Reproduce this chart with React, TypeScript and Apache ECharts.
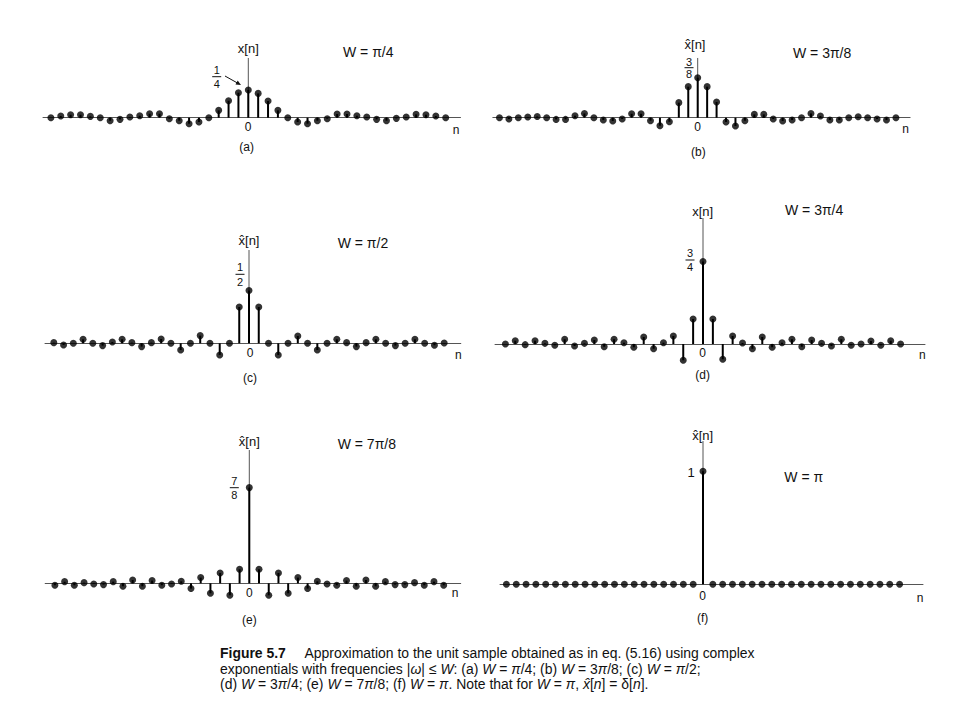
import React, { useEffect, useRef } from "react";
import * as echarts from "echarts";

// sample indices
const N41 = [-20, -19, -18, -17, -16, -15, -14, -13, -12, -11, -10, -9, -8, -7, -6, -5, -4, -3, -2, -1, 0, 1, 2, 3, 4, 5, 6, 7, 8, 9, 10, 11, 12, 13, 14, 15, 16, 17, 18, 19, 20];
const N43 = [-21, -20, -19, -18, -17, -16, -15, -14, -13, -12, -11, -10, -9, -8, -7, -6, -5, -4, -3, -2, -1, 0, 1, 2, 3, 4, 5, 6, 7, 8, 9, 10, 11, 12, 13, 14, 15, 16, 17, 18, 19, 20, 21];

// (a) W = pi/4
const valuesA = [0, 0.015, 0.027, 0.027, 0.012, 0, -0.027, -0.015, 0.006, 0.018, 0.036, 0.036, -0.009, -0.027, -0.054, -0.039, 0, 0.066, 0.153, 0.225, 0.25, 0.219, 0.15, 0.066, 0, -0.039, -0.054, -0.027, -0.009, 0.033, 0.033, 0.018, 0.006, -0.015, -0.027, -0.006, 0.006, 0.03, 0.027, 0.015, 0];
// (b) W = 3pi/8
const valuesB = [0, -0.012, 0, 0.007, 0.012, 0, -0.016, -0.016, 0.019, 0.04, 0, -0.022, -0.031, -0.012, 0.037, 0.037, -0.028, -0.075, -0.038, 0.141, 0.291, 0.375, 0.291, 0.147, -0.04, -0.078, -0.028, 0.031, 0.031, -0.012, -0.031, -0.022, 0, 0.04, 0.016, -0.022, -0.022, 0, 0.009, 0, -0.012, -0.022, 0];
// (c) W = pi/2
const valuesC = [0.006, -0.015, 0, 0.036, 0, -0.021, 0.012, 0.036, 0.006, -0.03, 0.006, 0.039, 0, -0.061, 0, 0.07, 0, -0.106, 0, 0.33, 0.48, 0.33, 0, -0.106, 0, 0.066, 0, -0.061, 0, 0.036, 0.006, -0.03, 0.006, 0.036, 0, -0.021, 0, 0.036, 0, -0.018, 0.003];
// (d) W = 3pi/4
const valuesD = [0, 0.03, -0.006, 0.03, 0.006, -0.012, 0.043, -0.018, 0.006, 0.036, -0.025, 0.043, 0.012, -0.03, 0.064, -0.043, 0.012, 0.073, -0.148, 0.227, 0.75, 0.227, -0.139, 0.073, 0.009, -0.043, 0.064, -0.03, 0.012, 0.043, -0.025, 0.036, 0.006, -0.018, 0.043, -0.012, 0, 0.027, -0.012, 0.03, 0];
// (e) W = 7pi/8
const valuesE = [-0.018, 0.015, -0.018, 0.006, -0.006, -0.012, 0.015, -0.027, 0.03, -0.027, 0.025, -0.018, -0.006, 0.018, -0.048, 0.052, -0.091, 0.094, -0.109, 0.127, 0.87, 0.127, -0.109, 0.094, -0.091, 0.052, -0.048, 0.018, -0.006, -0.018, 0.025, -0.027, 0.03, -0.027, 0.015, -0.012, -0.012, 0.006, -0.018, 0.015, -0.018];
// (f) W = pi
const valuesF = [0, 0, 0, 0, 0, 0, 0, 0, 0, 0, 0, 0, 0, 0, 0, 0, 0, 0, 0, 0, 1, 0, 0, 0, 0, 0, 0, 0, 0, 0, 0, 0, 0, 0, 0, 0, 0, 0, 0, 0, 0];

const FONT = "'Liberation Sans', Arial, Helvetica, sans-serif";
const INK = "#000000";
const AXIS = "#555555";
const TXT = "#111111";

// layout (pixel geometry per panel)
const PANELS = [
  { n: N41, v: valuesA, cx: 248.3, dx: 9.87, xmin: -20.8, xmax: 21.5, ay: 117.7, k: 111, ymax: 0.538, ymin: -0.2 },
  { n: N43, v: valuesB, cx: 697.7, dx: 9.44, xmin: -21.7, xmax: 22.5, ay: 117.7, k: 106.7, ymax: 0.56, ymin: -0.2 },
  { n: N41, v: valuesC, cx: 249, dx: 9.76, xmin: -20.9, xmax: 21.7, ay: 343.3, k: 110, ymax: 0.848, ymin: -0.2 },
  { n: N41, v: valuesD, cx: 703, dx: 9.88, xmin: -21.05, xmax: 22.47, ay: 344, k: 110, ymax: 1.145, ymin: -0.25 },
  { n: N41, v: valuesE, cx: 249.3, dx: 9.72, xmin: -21.0, xmax: 21.75, ay: 583.3, k: 110, ymax: 1.212, ymin: -0.2 },
  { n: N41, v: valuesF, cx: 703, dx: 9.83, xmin: -20.65, xmax: 22.38, ay: 584.3, k: 113, ymax: 1.268, ymin: -0.2 },
];

function T(text: string, x: number, y: number, size = 12, align = "center") {
  return {
    type: "text",
    x,
    y,
    silent: true,
    style: {
      text,
      fontSize: size,
      lineHeight: size,
      fontFamily: FONT,
      fill: TXT,
      align,
      verticalAlign: "middle",
      textAlign: align,
      textVerticalAlign: "middle",
    },
  };
}

function L(x1: number, y1: number, x2: number, y2: number, w = 1) {
  return { type: "line", silent: true, shape: { x1, y1, x2, y2 }, style: { stroke: TXT, lineWidth: w } };
}

function frac(num: string, den: string, x: number, yNum: number, yLine: number, yDen: number) {
  return [T(num, x, yNum, 11), L(x - 4.5, yLine, x + 4.5, yLine, 1), T(den, x, yDen, 11)];
}

const CAP = 15;
const richStyles = {
  b: { fontWeight: "bold", fontSize: CAP, fontFamily: FONT, fill: TXT },
  i: { fontStyle: "italic", fontSize: CAP, fontFamily: FONT, fill: TXT },
  r: { fontSize: CAP, fontFamily: FONT, fill: TXT },
};

function C(text: string, y: number) {
  return {
    type: "text",
    x: 0,
    y,
    silent: true,
    style: {
      text,
      rich: richStyles,
      fontSize: CAP,
      fontFamily: FONT,
      fill: TXT,
      align: "left",
      verticalAlign: "middle",
      textAlign: "left",
      textVerticalAlign: "middle",
    },
  };
}

export default function App() {
  const ref = useRef<HTMLDivElement>(null);

  useEffect(() => {
    if (!ref.current) return;
    const chart = echarts.init(ref.current, undefined, { renderer: "svg" });

    const grid = PANELS.map((p) => ({
      left: p.cx + p.xmin * p.dx,
      top: p.ay - p.ymax * p.k,
      width: (p.xmax - p.xmin) * p.dx,
      height: (p.ymax - p.ymin) * p.k,
      containLabel: false,
    }));
    const xAxis = PANELS.map((p, i) => ({
      type: "value",
      gridIndex: i,
      min: p.xmin,
      max: p.xmax,
      axisLine: { show: true, onZero: true, lineStyle: { color: AXIS, width: 1 } },
      axisTick: { show: false },
      axisLabel: { show: false },
      splitLine: { show: false },
    }));
    const yAxis = PANELS.map((p, i) => ({
      type: "value",
      gridIndex: i,
      min: p.ymin,
      max: p.ymax,
      axisLine: { show: false },
      axisTick: { show: false },
      axisLabel: { show: false },
      splitLine: { show: false },
    }));
    const series: any[] = [];
    PANELS.forEach((p, i) => {
      const data = p.n.map((n, j) => [n, p.v[j]]);
      series.push({
        type: "line",
        xAxisIndex: i,
        yAxisIndex: i,
        data: [[0, 0], [0, p.ymax]],
        symbol: "none",
        silent: true,
        lineStyle: { color: AXIS, width: 1 },
        z: 1,
      });
      series.push({
        type: "bar",
        xAxisIndex: i,
        yAxisIndex: i,
        data,
        barWidth: 2,
        silent: true,
        itemStyle: { color: INK },
        z: 2,
      });
      series.push({
        type: "scatter",
        xAxisIndex: i,
        yAxisIndex: i,
        data,
        symbol: "circle",
        symbolSize: 7,
        silent: true,
        itemStyle: { color: INK },
        z: 3,
      });
    });

    const graphic: any[] = [
      // (a)
      T("x[n]", 248.3, 48.3, 13),
      T("W = π/4", 343, 51.7, 14, "left"),
      ...frac("1", "4", 216.7, 69.5, 76.7, 84),
      L(225, 76, 238.5, 83.6, 1),
      { type: "polygon", silent: true, shape: { points: [[241, 85], [235.5, 84.5], [237.7, 80.6]] }, style: { fill: TXT } },
      T("0", 248, 126.7, 12),
      T("n", 456, 130, 12),
      T("(a)", 246.7, 146.7, 12),
      // (b)
      T("x\u0302[n]", 695, 44.5, 13),
      T("W = 3π/8", 793, 53.3, 14, "left"),
      ...frac("3", "8", 689, 61.5, 67.7, 74),
      T("0", 697.7, 126.7, 12),
      T("n", 905.7, 129.3, 12),
      T("(b)", 698.3, 151.7, 12),
      // (c)
      T("x\u0302[n]", 249, 240, 13),
      T("W = π/2", 337.7, 242.7, 14, "left"),
      ...frac("1", "2", 240, 267, 274.3, 281.5),
      T("0", 250, 352.7, 12),
      T("n", 458.3, 355, 12),
      T("(c)", 250, 377.7, 12),
      // (d)
      T("x[n]", 702.7, 211.7, 13),
      T("W = 3π/4", 785, 210, 14, "left"),
      ...frac("3", "4", 690, 253.3, 260, 267),
      T("0", 702.7, 353.3, 12),
      T("n", 922.3, 355, 12),
      T("(d)", 702.7, 375, 12),
      // (e)
      T("x\u0302[n]", 249.3, 441.7, 13),
      T("W = 7π/8", 337.7, 444, 14, "left"),
      ...frac("7", "8", 234.3, 481, 487.7, 495),
      T("0", 249.3, 592.7, 12),
      T("n", 455, 593.3, 12),
      T("(e)", 249.3, 620, 12),
      // (f)
      T("x\u0302[n]", 702.7, 435, 13),
      T("1", 691, 472.7, 13),
      T("W = π", 784.3, 476.7, 14, "left"),
      T("0", 702.7, 595.7, 12),
      T("n", 920, 597.7, 12),
      T("(f)", 702.7, 618.3, 12),
      // caption
      {
        type: "group",
        x: 220,
        y: 0,
        scaleX: 0.93,
        children: [
          C("{b|Figure 5.7}{r|     Approximation to the unit sample obtained as in eq. (5.16) using complex}", 653.3),
          C("{r|exponentials with frequencies |}{i|ω}{r|| ≤ }{i|W}{r|: (a) }{i|W}{r| = }{i|π}{r|/4; (b) }{i|W}{r| = 3}{i|π}{r|/8; (c) }{i|W}{r| = }{i|π}{r|/2;}", 669.3),
          C("{r|(d) }{i|W}{r| = 3}{i|π}{r|/4; (e) }{i|W}{r| = 7}{i|π}{r|/8; (f) }{i|W}{r| = }{i|π}{r|. Note that for }{i|W}{r| = }{i|π}{r|, }{i|x\u0302}{r|[}{i|n}{r|] = δ[}{i|n}{r|].}", 683.8),
        ],
      },
    ];

    chart.setOption({
      animation: false,
      backgroundColor: "#ffffff",
      grid,
      xAxis,
      yAxis,
      series,
      graphic,
    });

    return () => chart.dispose();
  }, []);

  return (
    <div
      ref={ref}
      style={{ position: "fixed", left: 0, top: 0, width: 960, height: 720, background: "#fff" }}
    />
  );
}
